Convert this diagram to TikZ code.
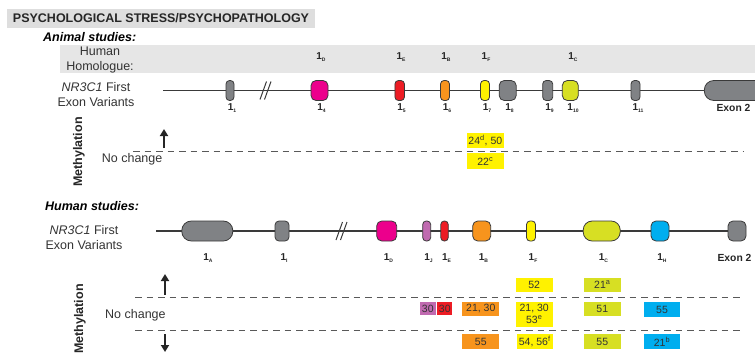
\documentclass[tikz,border=0pt]{standalone}
\usepackage{fontspec}
\setmainfont{Liberation Sans}
\usetikzlibrary{arrows.meta,backgrounds}

\definecolor{exgray}{HTML}{808285}
\definecolor{exmag}{HTML}{EC008C}
\definecolor{exred}{HTML}{ED1C24}
\definecolor{exorange}{HTML}{F7941D}
\definecolor{exyellow}{HTML}{FFF200}
\definecolor{exlime}{HTML}{D7DF23}
\definecolor{exblue}{HTML}{00AEEF}
\definecolor{expurple}{HTML}{C06AB0}
\definecolor{outline}{HTML}{3A3A3A}
\definecolor{bandgray}{HTML}{E6E6E6}
\definecolor{titlegray}{HTML}{DEDEDE}
\definecolor{txtgray}{HTML}{333333}

% exon label: bold 1 with a small subscript
\newcommand{\exlab}[1]{\textbf{1}\raisebox{-1.8pt}{\fontsize{5}{5}\selectfont\bfseries #1}}

\begin{document}
\begin{tikzpicture}[x=1pt,y=-1pt,
  exon/.style={draw=outline, line width=0.8pt, minimum height=20pt, inner sep=0pt, rounded corners=3.5pt},
  gene/.style={draw=outline, line width=1.3pt},
  sepline/.style={draw=black!65, line width=1.1pt, dash pattern=on 6.5pt off 5pt},
  res/.style={inner sep=0pt, text=txtgray, font=\fontsize{10.5}{12}\selectfont, align=center},
  lab/.style={inner sep=0pt, font=\fontsize{10}{10}\selectfont, text=black!85},
  plain/.style={inner sep=0pt, font=\fontsize{12.5}{15}\selectfont, text=black!80, align=center},
  head/.style={inner sep=0pt, font=\fontsize{12.5}{14.5}\selectfont\bfseries\itshape, anchor=west},
  methy/.style={inner sep=0pt, rotate=90, font=\fontsize{12.5}{14.5}\selectfont\bfseries, text=black!85},
  trend/.style={-{Triangle[length=7pt,width=8pt]}, line width=2pt, draw=black!85},
  brk/.style={draw=outline, line width=1pt},
]
\useasboundingbox (0,0) rectangle (755,356);

% ---------- heading ----------
\node[fill=titlegray, inner sep=0pt, minimum width=308pt, minimum height=19pt,
      font=\fontsize{12.5}{14}\selectfont\bfseries, text=black!85] (title) at (161,18)
      {PSYCHOLOGICAL STRESS/PSYCHOPATHOLOGY};

% ---------- animal studies ----------
\node[head] (animal) at (43,37.5) {Animal studies:};
\fill[bandgray] (60,45) rectangle (755,73);
\node[plain] (homol) at (100,59.5) {Human\\Homologue:};
\node[lab] (hmD) at (321,57) {\exlab{D}};
\node[lab] (hmE) at (401,57) {\exlab{E}};
\node[lab] (hmB) at (446,57) {\exlab{B}};
\node[lab] (hmF) at (486,57) {\exlab{F}};
\node[lab] (hmC) at (573,57) {\exlab{C}};

\node[plain] (avar) at (96,95) {\textit{NR3C1} First\\Exon Variants};

\coordinate (astart) at (163,90.5);
\node[exon, fill=exgray, minimum width=8pt]                       (a1)  at (230,90.5) {};
\node[exon, fill=exmag, minimum width=17pt, rounded corners=5pt]  (a4)  at (319.5,90.5) {};
\node[exon, fill=exred, minimum width=9.5pt]                      (a5)  at (399.7,90.5) {};
\node[exon, fill=exorange, minimum width=9pt]                     (a6)  at (445,90.5) {};
\node[exon, fill=exyellow, minimum width=9pt]                     (a7)  at (485,90.5) {};
\node[exon, fill=exgray, minimum width=17pt, rounded corners=5pt] (a8)  at (507.7,90.5) {};
\node[exon, fill=exgray, minimum width=10pt]                      (a9)  at (547.7,90.5) {};
\node[exon, fill=exlime, minimum width=16pt, rounded corners=5pt] (a10) at (570.3,90.5) {};
\node[exon, fill=exgray, minimum width=9pt]                       (a11) at (635.5,90.5) {};
\node[exon, fill=exgray, minimum width=60pt, rounded corners=9.5pt] (aex2) at (734.3,90.5) {};
\begin{pgfonlayer}{background}
  \draw[gene] (astart) -- (aex2.center);
\end{pgfonlayer}
\draw[brk] (260,99.5) -- (266.5,81.5) (264.5,99.5) -- (271,81.5);

\node[lab] (la1)  at (232,108) {\exlab{1}};
\node[lab] (la4)  at (321.5,108) {\exlab{4}};
\node[lab] (la5)  at (401.5,108) {\exlab{5}};
\node[lab] (la6)  at (447,108) {\exlab{6}};
\node[lab] (la7)  at (487,108) {\exlab{7}};
\node[lab] (la8)  at (509.5,108) {\exlab{8}};
\node[lab] (la9)  at (549.5,108) {\exlab{9}};
\node[lab] (la10) at (573,108) {\exlab{10}};
\node[lab] (la11) at (638,108) {\exlab{11}};
\node[lab, font=\fontsize{10.3}{10}\selectfont\bfseries] (laex2) at (733.5,108) {Exon 2};

\node[methy] (amethy) at (79,152) {Methylation};
\coordinate (aup0) at (164,148);
\coordinate (aup1) at (164,129);
\draw[trend] (aup0) -- (aup1);
\node[plain, anchor=west] (anoch) at (101.7,159.3) {No change};
\coordinate (adash0) at (133,151.7);
\coordinate (adash1) at (743,151.7);
\draw[sepline] (adash0) -- (adash1);

\node[res, fill=exyellow, minimum width=37.3pt, minimum height=15pt]   (ar1) at (485.3,140.8) {24\textsuperscript{d}, 50};
\node[res, fill=exyellow, minimum width=37.3pt, minimum height=15.7pt] (ar2) at (485.3,161.2) {22\textsuperscript{c}};

% ---------- human studies ----------
\node[head] (human) at (45,206) {Human studies:};
\node[plain] (hvar) at (84,238) {\textit{NR3C1} First\\Exon Variants};

\coordinate (hstart) at (156,231);
\node[exon, fill=exgray, minimum width=51pt, rounded corners=9.5pt] (hA) at (207.3,231) {};
\node[exon, fill=exgray, minimum width=14pt, rounded corners=4pt]   (hI) at (282,231) {};
\node[exon, fill=exmag, minimum width=20pt, rounded corners=5pt]    (hD) at (386.7,231) {};
\node[exon, fill=expurple, minimum width=8pt]                       (hJ) at (426.7,231) {};
\node[exon, fill=exred, minimum width=7.5pt]                        (hE) at (444.5,231) {};
\node[exon, fill=exorange, minimum width=18pt, rounded corners=5pt] (hB) at (481.7,231) {};
\node[exon, fill=exyellow, minimum width=9pt]                       (hF) at (531,231) {};
\node[exon, fill=exlime, minimum width=37pt, rounded corners=9pt]   (hC) at (601.7,231) {};
\node[exon, fill=exblue, minimum width=18pt, rounded corners=5pt]   (hH) at (660,231) {};
\node[exon, fill=exgray, minimum width=18pt, rounded corners=5pt]   (hex2) at (737,231) {};
\begin{pgfonlayer}{background}
  \draw[gene] (hstart) -- (hex2.center);
\end{pgfonlayer}
\draw[brk] (336,240) -- (342.5,222) (340.5,240) -- (347,222);

\node[lab] (lhA) at (208,258) {\exlab{A}};
\node[lab] (lhI) at (284,258) {\exlab{I}};
\node[lab] (lhD) at (388.5,258) {\exlab{D}};
\node[lab] (lhJ) at (428.5,258) {\exlab{J}};
\node[lab] (lhE) at (446.5,258) {\exlab{E}};
\node[lab] (lhB) at (483.5,258) {\exlab{B}};
\node[lab] (lhF) at (533,258) {\exlab{F}};
\node[lab] (lhC) at (603.5,258) {\exlab{C}};
\node[lab] (lhH) at (662,258) {\exlab{H}};
\node[lab, font=\fontsize{10.3}{10}\selectfont\bfseries] (lhex2) at (734.5,258) {Exon 2};

\node[methy] (hmethy) at (80,319) {Methylation};
\coordinate (hup0) at (165,295);
\coordinate (hup1) at (165,274);
\draw[trend] (hup0) -- (hup1);
\coordinate (hdn0) at (165,334);
\coordinate (hdn1) at (165,352);
\draw[trend] (hdn0) -- (hdn1);
\node[plain, anchor=west] (hnoch) at (105,315) {No change};
\coordinate (hdashA0) at (135,297.7);
\coordinate (hdashA1) at (743,297.7);
\coordinate (hdashB0) at (135,330.7);
\coordinate (hdashB1) at (743,330.7);
\draw[sepline] (hdashA0) -- (hdashA1);
\draw[sepline] (hdashB0) -- (hdashB1);

% increased methylation
\node[res, fill=exyellow, minimum width=37pt, minimum height=13.4pt]  (hr1) at (534.2,285) {52};
\node[res, fill=exlime, minimum width=36.7pt, minimum height=13.4pt]  (hr2) at (602.3,285) {21\textsuperscript{a}};
% no change
\node[res, fill=expurple, minimum width=15.7pt, minimum height=13.4pt] (hr3) at (427.8,308.4) {30};
\node[res, fill=exred, minimum width=15pt, minimum height=13.4pt]      (hr4) at (444.8,308.4) {30};
\node[res, fill=exorange, minimum width=37pt, minimum height=14pt]     (hr5) at (480.8,308.7) {21, 30};
\node[res, fill=exyellow, minimum width=37pt, minimum height=25pt]     (hr6) at (534.2,314.2) {21, 30\\53\textsuperscript{e}};
\node[res, fill=exlime, minimum width=36.7pt, minimum height=14pt]     (hr7) at (602.3,308.7) {51};
\node[res, fill=exblue, minimum width=36pt, minimum height=15.6pt]     (hr8) at (662,309.5) {55};
% decreased methylation
\node[res, fill=exorange, minimum width=37pt, minimum height=14.7pt]   (hr9)  at (480.8,341.7) {55};
\node[res, fill=exyellow, minimum width=36pt, minimum height=14.7pt]   (hr10) at (534.7,341.7) {54, 56\textsuperscript{f}};
\node[res, fill=exlime, minimum width=36.7pt, minimum height=14.7pt]   (hr11) at (602.3,341.7) {55};
\node[res, fill=exblue, minimum width=36pt, minimum height=14.7pt]     (hr12) at (662,341.7) {21\textsuperscript{b}};
\end{tikzpicture}
\end{document}
